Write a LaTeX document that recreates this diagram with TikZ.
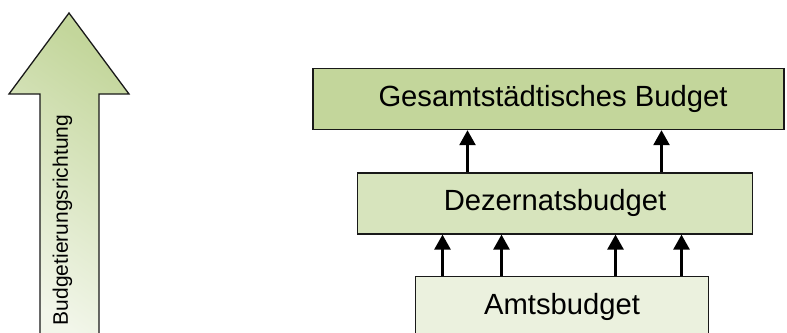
\documentclass[tikz,border=0pt]{standalone}
\usepackage{fontspec}
\setmainfont{Liberation Sans}
\usepackage{xcolor}
\usetikzlibrary{arrows.meta, positioning, calc}

\definecolor{greendark}{HTML}{C3D69B}
\definecolor{greenmid}{HTML}{D7E4BD}
\definecolor{greenlight}{HTML}{EBF1DE}
\definecolor{greenpale}{HTML}{F2F6EA}

\begin{document}
\begin{tikzpicture}[x=1pt, y=-1pt]
	\tikzstyle{budget} = [rectangle, minimum height=61pt, align=center, draw=black!90, line width=1.4pt, font=\fontsize{29.2}{33}\selectfont, inner sep=0pt]
	\tikzstyle{arrow} = [line width=2.6pt, -{Triangle[width=16pt, length=15pt]}]
	
	\useasboundingbox (0,0) rectangle (787,332);
	\clip (0,0) rectangle (787,332);
	
	% Direction arrow
	\draw [draw=black!90, line width=1.3pt, bottom color=greenpale, top color=greendark, shading angle=-35]
		(69,13) -- (129,94) -- (99,94) -- (99,345) -- (40,345) -- (40,94) -- (9,94) -- cycle;
	\node (richtung) [rotate=90, font=\fontsize{21}{24}\selectfont, inner sep=0pt] at (62.5,220) {Budgetierungsrichtung};
	
	% Nodes
	\node (gesamt) [budget, fill=greendark, minimum width=471pt] at (548.5,99) {\hspace*{9pt}Gesamtstädtisches Budget};
	
	\node (dezernat) [budget, fill=greenmid, minimum width=395pt, below=42pt of gesamt, xshift=6.5pt] {Dezernatsbudget};
	
	\node (amt) [budget, fill=greenlight, minimum width=293pt, below=41pt of dezernat, xshift=7pt] {Amtsbudget};
	
	% Arrows
	\draw [arrow] ([xshift=-87.5pt]dezernat.north) -- ([xshift=-87.5pt]dezernat.north |- gesamt.south);
	\draw [arrow] ([xshift=106.5pt]dezernat.north) -- ([xshift=106.5pt]dezernat.north |- gesamt.south);
	
	\draw [arrow] ([xshift=-119.5pt]amt.north) -- ([xshift=-119.5pt]amt.north |- dezernat.south);
	\draw [arrow] ([xshift=-60.5pt]amt.north) -- ([xshift=-60.5pt]amt.north |- dezernat.south);
	\draw [arrow] ([xshift=53.5pt]amt.north) -- ([xshift=53.5pt]amt.north |- dezernat.south);
	\draw [arrow] ([xshift=119.5pt]amt.north) -- ([xshift=119.5pt]amt.north |- dezernat.south);
	
\end{tikzpicture}
\end{document}
